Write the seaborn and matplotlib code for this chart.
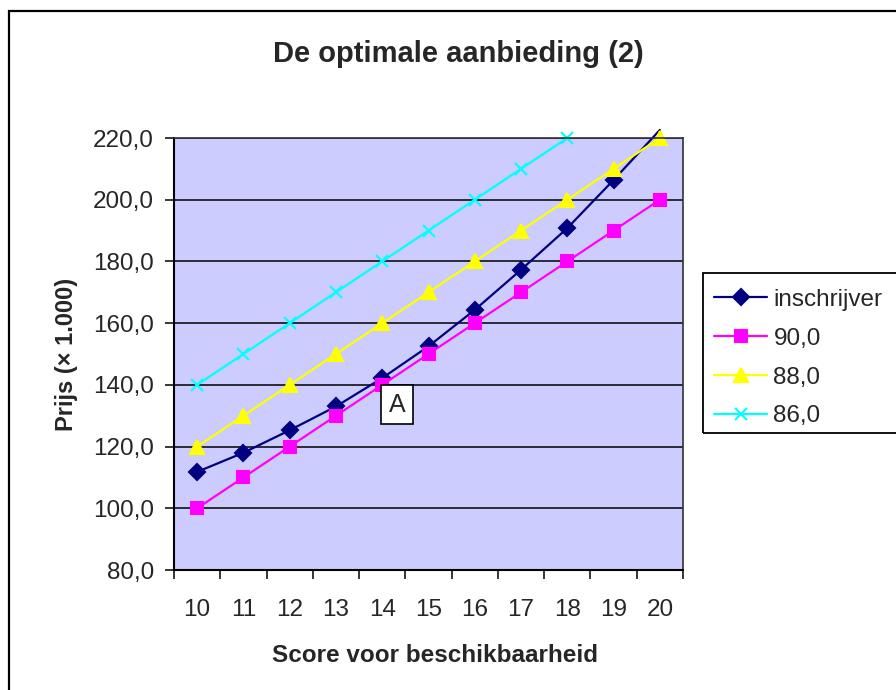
import matplotlib
matplotlib.use("Agg")
import matplotlib.pyplot as plt
import seaborn as sns
import numpy as np
from matplotlib.patches import Rectangle
from matplotlib.ticker import FuncFormatter, FixedLocator

categories = [10, 11, 12, 13, 14, 15, 16, 17, 18, 19, 20]
inschrijver = [111.8, 118.0, 125.3, 133.0, 142.2, 152.5, 164.3, 177.3, 190.8, 206.4, 222.6]
s90 = [100.0, 110.0, 120.0, 130.0, 140.0, 150.0, 160.0, 170.0, 180.0, 190.0, 200.0]
s88 = [120.0, 130.0, 140.0, 150.0, 160.0, 170.0, 180.0, 190.0, 200.0, 210.0, 220.0]
s86 = [140.0, 150.0, 160.0, 170.0, 180.0, 190.0, 200.0, 210.0, 220.0]
series_names = ["inschrijver", "90,0", "88,0", "86,0"]
y_ticks = [80, 100, 120, 140, 160, 180, 200, 220]
annot_pos = (14.32, 134.0)

sns.set_style("white")
plt.rcParams['font.family'] = ['Liberation Sans', 'DejaVu Sans']

W, H = 896, 690
fig = plt.figure(figsize=(W / 100, H / 100), dpi=100)
ax = fig.add_axes([174 / W, 1 - 570 / H, (683 - 174) / W, (570 - 138) / H])
ax.set_facecolor("#CCCCFF")

ymin, ymax = y_ticks[0], y_ticks[-1]
styles = [
    (inschrijver, "#000080", "D", 8, "#000080"),
    (s90, "#FF00FF", "s", 8, "#FF00FF"),
    (s88, "#FFFF00", "^", 10, "#FFFF00"),
    (s86, "#00FFFF", "x", 8, "#00FFFF"),
]
xi = {c: i for i, c in enumerate(categories)}
handles = []
for (vals, col, mk, ms, mc), name in zip(styles, series_names):
    xs = [xi[c] for c in categories[:len(vals)]]
    me = [i for i, v in enumerate(vals) if v <= ymax]
    sns.lineplot(x=xs, y=vals, ax=ax, color=col, marker=mk, markersize=ms,
                 markeredgecolor=mc, markerfacecolor=mc, markeredgewidth=1.5,
                 linewidth=1.6, markevery=me, clip_on=False, label=name,
                 legend=False)
    handles.append(ax.lines[-1])

ax.set_xlim(-0.5, len(categories) - 0.5)
ax.set_ylim(ymin, ymax)

ax.yaxis.set_major_locator(FixedLocator(y_ticks))
ax.yaxis.set_major_formatter(FuncFormatter(lambda v, p: f"{v:.1f}".replace(".", ",")))
ax.grid(axis="y", color="black", linewidth=1.1)
ax.set_axisbelow(True)

bounds = np.arange(-0.5, len(categories), 1.0)
ax.set_xticks(bounds)
ax.set_xticklabels([""] * len(bounds))
ax.set_xticks(range(len(categories)), minor=True)
ax.set_xticklabels([str(c) for c in categories], minor=True)
ax.tick_params(axis="x", which="major", direction="out", length=6.5, width=1.1, color="black", bottom=True)
ax.tick_params(axis="x", which="minor", length=0, pad=21, labelsize=17.5, bottom=True)
ax.tick_params(axis="y", direction="out", length=6.5, width=1.1, color="black", pad=8, labelsize=17.5, left=True)

for side in ["left", "bottom"]:
    ax.spines[side].set_color("black")
    ax.spines[side].set_linewidth(1.5)
for side in ["top", "right"]:
    ax.spines[side].set_color("#333333")
    ax.spines[side].set_linewidth(1.2)

ax.text(annot_pos[0] - categories[0], annot_pos[1] - 0.5, "A", fontsize=18, ha="center", va="center",
        bbox=dict(boxstyle="square,pad=0.3", fc="white", ec="black", lw=1.2), zorder=5)

fig.text(458 / W, 1 - 54 / H, "De optimale aanbieding (2)", fontsize=21, fontweight="bold",
         ha="center", va="center")
fig.text(435 / W, 1 - 655 / H, "Score voor beschikbaarheid", fontsize=17.5, fontweight="bold",
         ha="center", va="center")
fig.text(66 / W, 1 - 354 / H, "Prijs (\u00d7 1.000)", fontsize=17, fontweight="bold",
         ha="center", va="center", rotation=90)

leg = fig.legend(handles, series_names, loc="upper left", bbox_to_anchor=(703 / W, 1 - 278 / H),
                 bbox_transform=fig.transFigure, borderaxespad=0, fontsize=17.5, frameon=False,
                 handlelength=2.2, handletextpad=0.25, labelspacing=0.69, borderpad=0.45)

# legend frame (extends past the right edge, as in the reference)
fig.patches.append(Rectangle((703 / W, 1 - 433 / H), 0.5, (433 - 273) / H, transform=fig.transFigure,
                             fill=False, ec="black", lw=1.3, figure=fig))
# outer chart border
fig.patches.append(Rectangle((9 / W, -0.1), 2.0, 1 - 11 / H + 0.1, transform=fig.transFigure,
                             fill=False, ec="black", lw=1.6, figure=fig))

fig.savefig("out.png", dpi=100, facecolor="white")
